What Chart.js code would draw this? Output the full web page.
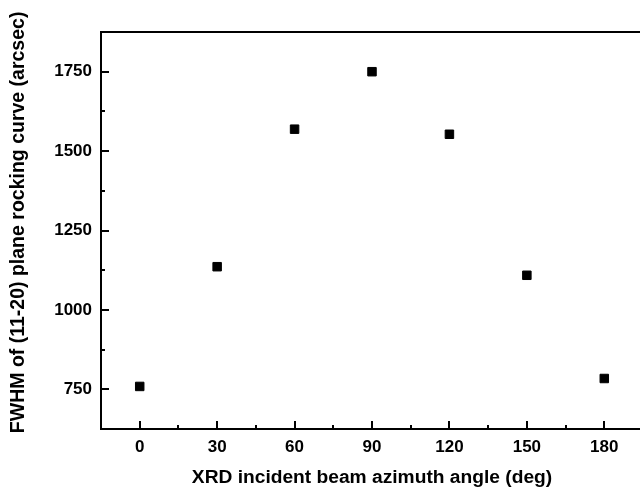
<!DOCTYPE html>
<html>
<head>
<meta charset="utf-8">
<script src="https://cdn.jsdelivr.net/npm/chart.js@4/dist/chart.umd.min.js"></script>
<style>
  html, body { margin: 0; padding: 0; background: #fff; overflow: hidden; }
  #wrap { width: 643px; height: 493px; }
</style>
</head>
<body>
<div id="wrap"><canvas id="c" width="643" height="493"></canvas></div>
<script>
// ---- data ----
const azimuthAngles = [0, 30, 60, 90, 120, 150, 180];
const fwhmValues = [759, 1136, 1569, 1750, 1553, 1109, 784];
const xMajorTicks = [0, 30, 60, 90, 120, 150, 180];
const xMinorTicks = [15, 45, 75, 105, 135, 165];
const yMajorTicks = [750, 1000, 1250, 1500, 1750];
const yMinorTicks = [875, 1125, 1375, 1625];
const xTitle = 'XRD incident beam azimuth angle (deg)';
const yTitle = 'FWHM of (11-20) plane rocking curve (arcsec)';

const FONT = 'Liberation Sans, Arial, Helvetica, sans-serif';

const innerTicks = {
  id: 'innerTicks',
  afterDraw(chart) {
    const { ctx, chartArea, scales } = chart;
    const x = scales.x, y = scales.y;
    ctx.save();
    ctx.strokeStyle = '#000';
    ctx.lineWidth = 2;
    // top frame line
    ctx.beginPath();
    ctx.moveTo(chartArea.left - 1, chartArea.top);
    ctx.lineTo(chartArea.right, chartArea.top);
    ctx.stroke();
    const bottom = chartArea.bottom, left = chartArea.left;
    const drawX = (vals, len) => vals.forEach(v => {
      const px = Math.round(x.getPixelForValue(v));
      ctx.beginPath(); ctx.moveTo(px, bottom); ctx.lineTo(px, bottom - len); ctx.stroke();
    });
    const drawY = (vals, len) => vals.forEach(v => {
      const py = Math.round(y.getPixelForValue(v));
      ctx.beginPath(); ctx.moveTo(left, py); ctx.lineTo(left + len, py); ctx.stroke();
    });
    drawX(xMajorTicks, 8); drawX(xMinorTicks, 4);
    drawY(yMajorTicks, 8); drawY(yMinorTicks, 4);
    ctx.restore();
  }
};

new Chart(document.getElementById('c'), {
  type: 'scatter',
  data: {
    datasets: [{
      data: azimuthAngles.map((a, i) => ({ x: a, y: fwhmValues[i] })),
      pointStyle: 'rect',
      pointRadius: 6,
      pointBorderWidth: 1,
      backgroundColor: '#000',
      borderColor: '#000',
      showLine: false
    }]
  },
  options: {
    responsive: false,
    animation: false,
    layout: { autoPadding: false, padding: { top: 32, right: 0, left: 0, bottom: 0 } },
    plugins: { legend: { display: false }, tooltip: { enabled: false } },
    scales: {
      x: {
        type: 'linear',
        min: -15, max: 195,
        afterBuildTicks: s => { s.ticks = xMajorTicks.map(v => ({ value: v })); },
        afterFit: s => { s.height = 64; s.paddingLeft = 0; s.paddingRight = 0; },
        grid: { display: false, drawTicks: false },
        border: { display: true, color: '#000', width: 2 },
        ticks: { color: '#000', padding: 8, font: { family: FONT, size: 17, weight: 'bold' }, maxRotation: 0,
                 callback: v => String(v) },
        title: { display: true, text: xTitle, color: '#000', padding: { top: 0, bottom: 4 },
                 font: { family: FONT, size: 19.2, weight: 'bold' } }
      },
      y: {
        type: 'linear',
        min: 625, max: 1875,
        afterBuildTicks: s => { s.ticks = yMajorTicks.map(v => ({ value: v })); },
        afterFit: s => { s.width = 101; s.paddingTop = 0; s.paddingBottom = 0; },
        grid: { display: false, drawTicks: false },
        border: { display: true, color: '#000', width: 2 },
        ticks: { color: '#000', padding: 9, font: { family: FONT, size: 17, weight: 'bold' },
                 callback: v => String(v) },
        title: { display: true, text: '   ' + yTitle, color: '#000', padding: { top: 7, bottom: 0 },
                 font: { family: FONT, size: 19.5, weight: 'bold' } }
      }
    }
  },
  plugins: [innerTicks]
});
</script>
</body>
</html>
